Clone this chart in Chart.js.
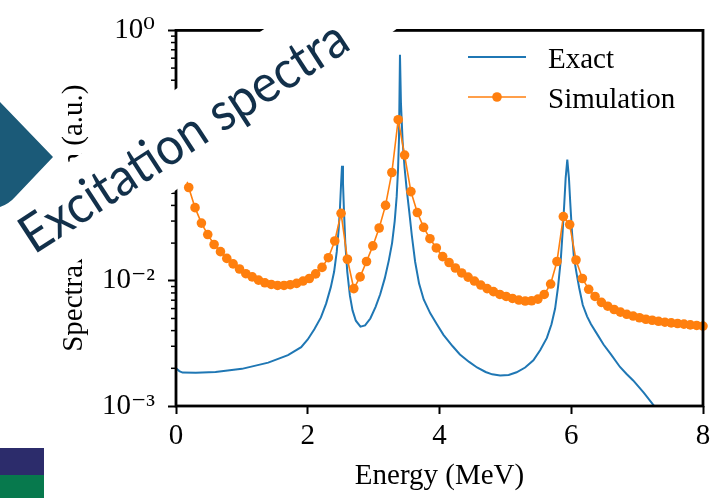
<!DOCTYPE html>
<html lang="en">
<head>
  <meta charset="UTF-8">
  <title>Excitation spectra</title>
  <script src="https://cdn.jsdelivr.net/npm/chart.js"></script>
  <style>
    html, body { margin: 0; padding: 0; background: #fff; }
    #wrap { position: relative; width: 718px; height: 498px; }
  </style>
</head>
<body>
  <div id="wrap"><canvas id="spectra" width="718" height="498"></canvas></div>

  <script>
    // values (energy in MeV, spectral function in a.u.)
    const exactE = [0, 0.05, 0.1, 0.3, 0.6, 1.0, 1.4, 1.7, 1.9, 2.0,
      2.1, 2.2, 2.28, 2.35, 2.4, 2.44, 2.47, 2.49, 2.505, 2.52,
      2.535, 2.55, 2.57, 2.6, 2.64, 2.68, 2.73, 2.8, 2.87, 2.95,
      3.03, 3.1, 3.17, 3.23, 3.28, 3.32, 3.35, 3.37, 3.385, 3.4,
      3.415, 3.44, 3.47, 3.5, 3.54, 3.58, 3.63, 3.69, 3.76, 3.86,
      3.96, 4.06, 4.2, 4.31, 4.45, 4.57, 4.7, 4.8, 4.92, 5.05,
      5.17, 5.3, 5.425, 5.53, 5.63, 5.7, 5.755, 5.8, 5.84, 5.87,
      5.895, 5.915, 5.94, 5.965, 5.985, 6.01, 6.04, 6.08, 6.12, 6.175,
      6.24, 6.3, 6.4, 6.49, 6.6, 6.74, 6.84, 6.94, 7.1, 7.245,
      7.3];
    const exactS = [0.002, 0.0019, 0.00185, 0.00184, 0.00187, 0.00198, 0.00222, 0.00255, 0.00295, 0.0034,
      0.0041, 0.0051, 0.0066, 0.0089, 0.0118, 0.017, 0.026, 0.039, 0.058, 0.083,
      0.06, 0.036, 0.02, 0.0118, 0.0076, 0.0058, 0.0048, 0.0043, 0.0044, 0.005,
      0.0062, 0.0078, 0.0105, 0.0145, 0.02, 0.03, 0.047, 0.076, 0.135, 0.64,
      0.26, 0.13, 0.08, 0.055, 0.036, 0.023, 0.0142, 0.0095, 0.0071, 0.0055,
      0.0045, 0.0037, 0.003, 0.00258, 0.00225, 0.00203, 0.00187, 0.00179, 0.00175, 0.00177,
      0.00186, 0.00203, 0.00232, 0.0028, 0.0035, 0.0045, 0.006, 0.009, 0.0145, 0.025,
      0.042, 0.066, 0.093, 0.066, 0.042, 0.025, 0.0155, 0.0115, 0.0088, 0.0064,
      0.0052, 0.0045, 0.0037, 0.0031, 0.0026, 0.00205, 0.0018, 0.0016, 0.00128, 0.00102,
      0.00096];

    const simE = [0, 0.096, 0.193, 0.289, 0.386, 0.482, 0.578, 0.675, 0.771, 0.867,
      0.964, 1.06, 1.157, 1.253, 1.349, 1.446, 1.542, 1.639, 1.735, 1.831,
      1.928, 2.024, 2.12, 2.217, 2.313, 2.41, 2.506, 2.602, 2.699, 2.795,
      2.892, 2.988, 3.084, 3.181, 3.277, 3.373, 3.47, 3.566, 3.663, 3.759,
      3.855, 3.952, 4.048, 4.145, 4.241, 4.337, 4.434, 4.53, 4.627, 4.723,
      4.819, 4.916, 5.012, 5.108, 5.205, 5.301, 5.398, 5.494, 5.59, 5.687,
      5.783, 5.88, 5.976, 6.072, 6.169, 6.265, 6.361, 6.458, 6.554, 6.651,
      6.747, 6.843, 6.94, 7.036, 7.133, 7.229, 7.325, 7.422, 7.518, 7.614,
      7.711, 7.807, 7.904, 8.0];
    const simS = [0.131, 0.0835, 0.0556, 0.0384, 0.0289, 0.0234, 0.0195, 0.0171, 0.0151, 0.01364,
      0.01242, 0.0114, 0.01074, 0.01012, 0.00964, 0.00935, 0.00918, 0.00918, 0.00931, 0.00953,
      0.00995, 0.01043, 0.01135, 0.0128, 0.0153, 0.0208, 0.0346, 0.01486, 0.00866, 0.01074,
      0.01426, 0.019, 0.0264, 0.04, 0.0733, 0.1936, 0.101, 0.0516, 0.0351, 0.0267,
      0.0217, 0.0183, 0.0156, 0.014, 0.01265, 0.01155, 0.0107, 0.00995, 0.00925, 0.00866,
      0.0082, 0.00778, 0.0075, 0.00723, 0.00702, 0.00689, 0.00693, 0.00714, 0.00778, 0.00942,
      0.01426, 0.0326, 0.0281, 0.01466, 0.01043, 0.00855, 0.0075, 0.00673, 0.00627, 0.0059,
      0.00562, 0.0054, 0.00523, 0.00507, 0.00493, 0.00484, 0.00475, 0.00467, 0.00461, 0.00456,
      0.00451, 0.00445, 0.0044, 0.00435];

    const xTicks = [0, 2, 4, 6, 8];
    const yTicks = [1e-3, 1e-2, 1e-1, 1];
    const yTickLabels = ['10\u207B\u00B3', '10\u207B\u00B2', '10\u207B\u00B9', '10\u2070'];

    const serif = "'Liberation Serif', 'DejaVu Serif', serif";
    const blue = '#1f77b4';
    const orange = '#ff7f0e';

    // box around the axes + minor ticks of the log axis
    const framePlugin = {
      id: 'frame',
      afterDatasetsDraw(chart) {
        const { ctx, chartArea: a, scales: { y } } = chart;
        ctx.save();
        ctx.strokeStyle = '#000';
        ctx.lineWidth = 1.5;
        for (let k = -3; k < 0; k++) {
          for (let m = 2; m <= 9; m++) {
            const py = y.getPixelForValue(m * Math.pow(10, k));
            ctx.beginPath();
            ctx.moveTo(a.left - 5, py);
            ctx.lineTo(a.left, py);
            ctx.stroke();
          }
        }
        ctx.lineWidth = 2.8;
        ctx.strokeRect(a.left, a.top, a.right - a.left, a.bottom - a.top);
        ctx.restore();
      }
    };

    // matplotlib-like legend (line + marker handles)
    const legendPlugin = {
      id: 'mplLegend',
      afterDatasetsDraw(chart) {
        const { ctx } = chart;
        const rows = [{ ds: chart.data.datasets[1], y: 57 }, { ds: chart.data.datasets[0], y: 97 }];
        ctx.save();
        rows.forEach(r => {
          ctx.strokeStyle = r.ds.borderColor;
          ctx.lineWidth = r.ds.borderWidth;
          ctx.beginPath();
          ctx.moveTo(468, r.y);
          ctx.lineTo(526, r.y);
          ctx.stroke();
          if (r.ds.pointRadius > 0) {
            ctx.fillStyle = r.ds.backgroundColor;
            ctx.beginPath();
            ctx.arc(497, r.y, r.ds.pointRadius, 0, Math.PI * 2);
            ctx.fill();
          }
          ctx.fillStyle = '#000';
          ctx.font = '29px ' + serif;
          ctx.textBaseline = 'alphabetic';
          ctx.fillText(r.ds.label, 548, r.y + 11);
        });
        ctx.restore();
      }
    };

    // the slide overlay: white band, rotated title, arrow and corner blocks
    const overlayPlugin = {
      id: 'overlay',
      afterDraw(chart) {
        const { ctx } = chart;
        ctx.save();
        ctx.fillStyle = '#fff';
        ctx.beginPath();
        ctx.moveTo(-5, 89 + 0.68 * 181);
        ctx.lineTo(470, 89 - 0.68 * 294);
        ctx.lineTo(470, 190 - 0.73 * 294);
        ctx.lineTo(-5, 190 + 0.73 * 181);
        ctx.closePath();
        ctx.fill();

        ctx.fillStyle = '#1b5a78';
        ctx.beginPath();
        ctx.moveTo(0, 102);
        ctx.lineTo(53, 157);
        ctx.lineTo(16, 196);
        ctx.quadraticCurveTo(9, 204, 0, 207);
        ctx.closePath();
        ctx.fill();

        ctx.fillStyle = '#2c2c6b';
        ctx.fillRect(0, 448, 44, 27);
        ctx.fillStyle = '#07794d';
        ctx.fillRect(0, 475, 44, 23);

        const title = 'Excitation spectra';
        ctx.font = '53px Lato';
        const squeeze = 380 / ctx.measureText(title).width;
        ctx.fillStyle = '#12304a';
        ctx.textBaseline = 'alphabetic';
        ctx.translate(34, 255);
        ctx.rotate(-33 * Math.PI / 180);
        ctx.scale(squeeze, 1);
        ctx.fillText(title, 0, 0);
        ctx.restore();
      }
    };

    new Chart(document.getElementById('spectra'), {
      type: 'line',
      data: {
        datasets: [
          {
            label: 'Simulation',
            data: simE.map((e, i) => ({ x: e, y: simS[i] })),
            borderColor: orange,
            backgroundColor: orange,
            borderWidth: 1.6,
            pointRadius: 4.8,
            pointBorderWidth: 0,
            pointBackgroundColor: orange,
            tension: 0,
            clip: 6,
            order: 0
          },
          {
            label: 'Exact',
            data: exactE.map((e, i) => ({ x: e, y: exactS[i] })),
            borderColor: blue,
            borderWidth: 2,
            pointRadius: 0,
            tension: 0,
            order: 1
          }
        ]
      },
      options: {
        responsive: false,
        animation: false,
        devicePixelRatio: 1,
        layout: { padding: { left: 0, right: 15, top: 22, bottom: 0 } },
        plugins: { legend: { display: false }, tooltip: { enabled: false } },
        scales: {
          x: {
            type: 'linear',
            min: 0,
            max: 8,
            afterBuildTicks: s => { s.ticks = xTicks.map(v => ({ value: v })); },
            afterFit: s => { s.height = 92; },
            ticks: { color: '#000', font: { family: serif, size: 29 }, padding: 5, maxRotation: 0, autoSkip: false },
            grid: { drawOnChartArea: false, tickLength: 8, tickWidth: 2, tickColor: '#000' },
            border: { display: false },
            title: { display: true, text: 'Energy (MeV)', color: '#000', font: { family: serif, size: 29 }, padding: { top: 0, bottom: 4 } }
          },
          y: {
            type: 'logarithmic',
            min: 1e-3,
            max: 1,
            afterBuildTicks: s => { s.ticks = yTicks.map(v => ({ value: v, major: true })); },
            afterFit: s => { s.width = 176; },
            ticks: {
              color: '#000',
              font: { family: serif, size: 29 },
              padding: 13,
              autoSkip: false,
              callback: v => { const i = yTicks.indexOf(v); return i >= 0 ? yTickLabels[i] : ''; }
            },
            grid: { drawOnChartArea: false, tickLength: 8, tickWidth: 2, tickColor: '#000' },
            border: { display: false },
            title: { display: true, text: 'Spectral function (a.u.)', color: '#000', font: { family: serif, size: 29 }, padding: { top: 57, bottom: 0 } }
          }
        }
      },
      plugins: [framePlugin, legendPlugin, overlayPlugin]
    });
  </script>
</body>
</html>
